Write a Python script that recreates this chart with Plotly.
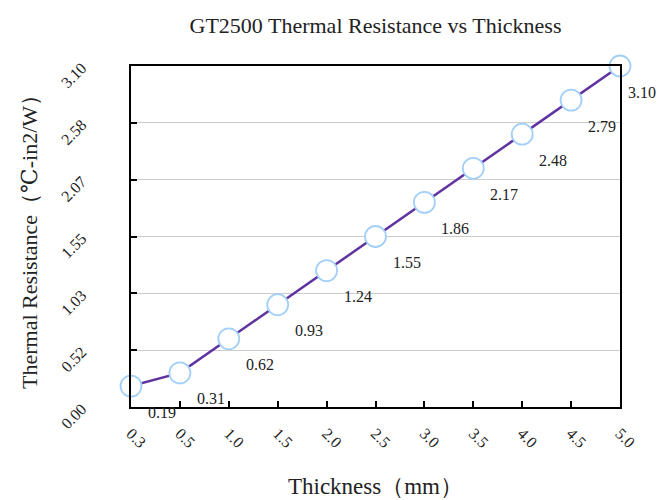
import plotly.graph_objects as go

thickness = ["0.3", "0.5", "1.0", "1.5", "2.0", "2.5", "3.0", "3.5", "4.0", "4.5", "5.0"]
resistance = [0.19, 0.31, 0.62, 0.93, 1.24, 1.55, 1.86, 2.17, 2.48, 2.79, 3.10]
ytick_vals = [0.0, 3.1 / 6, 3.1 * 2 / 6, 1.55, 3.1 * 4 / 6, 3.1 * 5 / 6, 3.1]
ytick_text = ["0.00", "0.52", "1.03", "1.55", "2.07", "2.58", "3.10"]

FONT = "Liberation Serif, DejaVu Serif, serif"

fig = go.Figure()
fig.add_trace(go.Scatter(
    x=thickness, y=resistance, mode="lines+markers",
    line=dict(color="#5f33a0", width=2.5),
    marker=dict(size=21, color="white", line=dict(color="#a3d0f8", width=1.8)),
    cliponaxis=False, showlegend=False, hoverinfo="x+y",
))

n = len(resistance)
for i, yv in enumerate(resistance):
    fig.add_annotation(x=i, y=yv, text=f"{yv:.2f}", showarrow=False,
                       xshift=31 if i < n - 1 else 22, yshift=-26,
                       font=dict(family=FONT, size=16, color="#222"))

fig.update_layout(
    width=667, height=500,
    margin=dict(l=123, r=55, t=58, b=101),
    paper_bgcolor="white", plot_bgcolor="white",
    font=dict(family=FONT, color="#222"),
    title=dict(text="GT2500 Thermal Resistance vs Thickness", x=0.5, xref="paper",
               y=1 - 17 / 500, yref="container", yanchor="middle",
               font=dict(family=FONT, size=22, color="#222")),
)
fig.update_xaxes(
    type="category", range=[0, 10], automargin=False,
    showline=True, linecolor="black", linewidth=2, mirror=True,
    ticks="inside", ticklen=6, tickwidth=2, tickcolor="black",
    tickangle=45, ticklabelstandoff=9,
    tickfont=dict(family=FONT, size=16, color="#222"),
    showgrid=False, zeroline=False,
    title=dict(text="Thickness（mm）", font=dict(family=FONT, size=23, color="#222"), standoff=28),
)
fig.update_yaxes(
    range=[0, 3.1], tickvals=ytick_vals, ticktext=ytick_text, automargin=False,
    showline=True, linecolor="black", linewidth=2, mirror=True,
    ticks="inside", ticklen=6, tickwidth=2, tickcolor="black",
    tickangle=-45, ticklabelstandoff=44,
    tickfont=dict(family=FONT, size=16, color="#222"),
    showgrid=True, gridcolor="#cccccc", gridwidth=1, zeroline=False,
    title=dict(text="Thermal Resistance（℃-in2/W）", font=dict(family=FONT, size=22, color="#222"), standoff=14),
)

fig.write_html("out.html")
